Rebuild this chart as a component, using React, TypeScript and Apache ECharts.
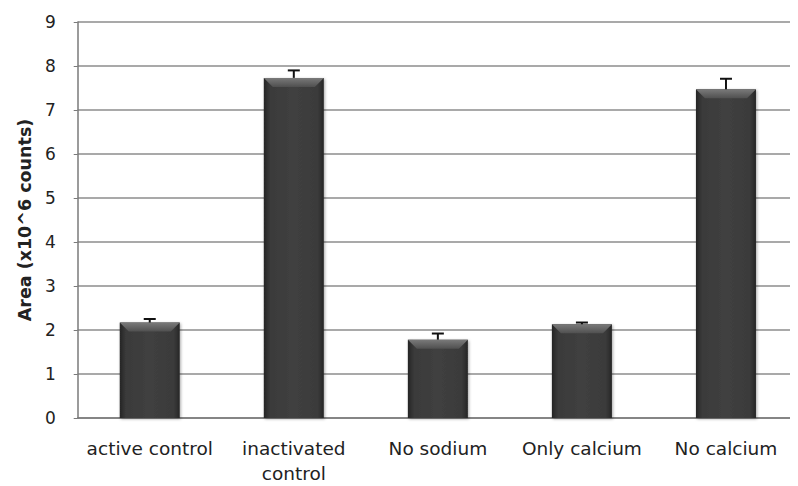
import React, { useEffect, useRef } from "react";
import * as echarts from "echarts";

const categories = ["active control", "inactivated\ncontrol", "No sodium", "Only calcium", "No calcium"];
const values = [2.17, 7.73, 1.78, 2.13, 7.47];
const errors = [0.08, 0.17, 0.14, 0.04, 0.24];
const yTicks = [0, 1, 2, 3, 4, 5, 6, 7, 8, 9];

export default function App() {
  const ref = useRef<HTMLDivElement>(null);
  useEffect(() => {
    if (!ref.current) return;
    const chart = echarts.init(ref.current, null, { renderer: "svg" });
    const font = "'DejaVu Sans', sans-serif";
    chart.setOption({
      animation: false,
      backgroundColor: "#ffffff",
      grid: { left: 68, top: 14, width: 726, bottom: 65 },
      xAxis: {
        type: "category",
        data: categories,
        axisLine: { lineStyle: { color: "#7a7a7a", width: 1.5 } },
        axisTick: { show: false },
        axisLabel: { color: "#222", fontSize: 18.5, fontFamily: font, margin: 18, lineHeight: 25, interval: 0 },
      },
      yAxis: {
        type: "value",
        min: 0,
        max: yTicks[yTicks.length - 1],
        interval: 1,
        name: "Area (x10^6 counts)",
        nameLocation: "middle",
        nameGap: 40,
        nameTextStyle: { color: "#222", fontSize: 17.5, fontWeight: "bold", fontFamily: font },
        axisLine: { show: true, lineStyle: { color: "#7a7a7a", width: 1.5 } },
        axisTick: { show: true, length: 4, lineStyle: { color: "#7a7a7a" } },
        axisLabel: { color: "#222", fontSize: 17, fontFamily: font, margin: 22 },
        splitLine: { lineStyle: { color: "#8c8c8c", width: 1.5 } },
      },
      series: [
        {
          type: "bar",
          data: values,
          barWidth: 60,
          itemStyle: {
            color: new echarts.graphic.LinearGradient(0, 0, 1, 0, [
              { offset: 0, color: "#262626" },
              { offset: 0.1, color: "#3a3a3a" },
              { offset: 0.5, color: "#404040" },
              { offset: 0.9, color: "#3a3a3a" },
              { offset: 1, color: "#262626" },
            ]),
            shadowColor: "rgba(0,0,0,0.35)",
            shadowBlur: 3,
            shadowOffsetX: 1,
            shadowOffsetY: 1,
          },
        },
        {
          type: "custom",
          data: values.map((v, i) => [i, v, errors[i]]),
          z: 5,
          renderItem: (params: any, api: any) => {
            const i = api.value(0);
            const v = api.value(1);
            const e = api.value(2);
            const top = api.coord([i, v]);
            const errTop = api.coord([i, v + e]);
            const half = 30;
            const bev = 9;
            return {
              type: "group",
              children: [
                {
                  type: "polygon",
                  shape: {
                    points: [
                      [top[0] - half, top[1]],
                      [top[0] + half, top[1]],
                      [top[0] + half - bev, top[1] + bev],
                      [top[0] - half + bev, top[1] + bev],
                    ],
                  },
                  style: {
                    fill: new echarts.graphic.LinearGradient(0, 0, 0, 1, [
                      { offset: 0, color: "#7a7a7a" },
                      { offset: 1, color: "#505050" },
                    ]),
                  },
                },
                {
                  type: "line",
                  shape: { x1: top[0], y1: top[1], x2: errTop[0], y2: errTop[1] },
                  style: { stroke: "#111", lineWidth: 2 },
                },
                {
                  type: "line",
                  shape: { x1: top[0] - 6, y1: errTop[1], x2: top[0] + 6, y2: errTop[1] },
                  style: { stroke: "#111", lineWidth: 2 },
                },
              ],
            };
          },
        },
      ],
    });
    return () => chart.dispose();
  }, []);
  return <div ref={ref} style={{ width: 790, height: 478 }} />;
}
